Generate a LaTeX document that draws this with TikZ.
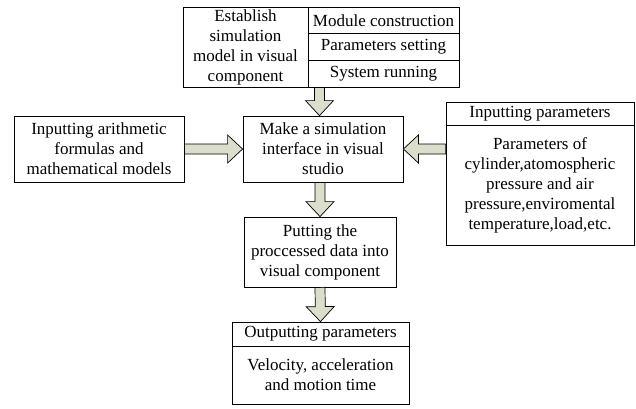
\documentclass[tikz,border=0pt]{standalone}
\usepackage{fontspec}
\setmainfont{Liberation Serif}
\usetikzlibrary{calc}

\definecolor{arrowfill}{RGB}{218,222,202}

\tikzset{
  box/.style={draw, line width=0.8pt, inner sep=0pt, align=center, font=\fontsize{17}{20}\selectfont},
  fatarrow/.style={draw, line width=0.7pt, fill=arrowfill}
}

\newcommand{\blockarrow}[2]{%
  \path[fatarrow] let \p1=(#1), \p2=(#2), \n1={atan2(\y2-\y1,\x2-\x1)}, \n2={veclen(\x2-\x1,\y2-\y1)} in
    [shift={(\p1)}, rotate=\n1]
    (0pt,-5pt) -- (\n2-15pt,-5pt) -- (\n2-15pt,-14pt) -- (\n2,0pt) -- (\n2-15pt,14pt) -- (\n2-15pt,5pt) -- (0pt,5pt) -- cycle;
}

\begin{document}
\begin{tikzpicture}[x=1pt, y=-1pt]
\useasboundingbox (0,0) rectangle (636,408);

\node[box, minimum width=125pt, minimum height=80pt] (estab) at (245.5,47) {Establish\\simulation\\model in visual\\component};
\node[box, minimum width=151pt, minimum height=26.7pt] (module) at (383.5,20.35) {Module construction};
\node[box, minimum width=151pt, minimum height=26.7pt] (setting) at (383.5,47) {Parameters setting};
\node[box, minimum width=151pt, minimum height=26.7pt] (running) at (383.5,73.65) {System running};

\node[box, minimum width=170pt, minimum height=66pt] (formula) at (99,149) {Inputting arithmetic\\formulas and\\mathematical models};
\node[box, minimum width=160pt, minimum height=66pt] (interface) at (323,149) {Make a simulation\\interface in visual\\studio};

\node[box, minimum width=188pt, minimum height=23pt] (inhead) at (540,113.5) {Inputting parameters};
\node[box, minimum width=188pt, minimum height=120pt] (inbody) at (540,185) {Parameters of\\cylinder,atomospheric\\pressure and air\\pressure,enviromental\\temperature,load,etc.};

\node[box, minimum width=152pt, minimum height=70pt] (putting) at (320,252) {Putting the\\proccessed data into\\visual component};

\node[box, minimum width=177pt, minimum height=24pt] (outhead) at (320.5,334) {Outputting parameters};
\node[box, minimum width=177pt, minimum height=58pt] (outbody) at (320.5,375) {Velocity, acceleration\\and motion time};

\coordinate (intop) at ($(interface.north)+(-3.5pt,0pt)$);

\blockarrow{intop |- running.south}{intop}
\blockarrow{formula.east}{interface.west}
\blockarrow{interface.east -| inbody.west}{interface.east}
\blockarrow{putting.north |- interface.south}{putting.north}
\blockarrow{putting.south}{outhead.north}

\end{tikzpicture}
\end{document}
